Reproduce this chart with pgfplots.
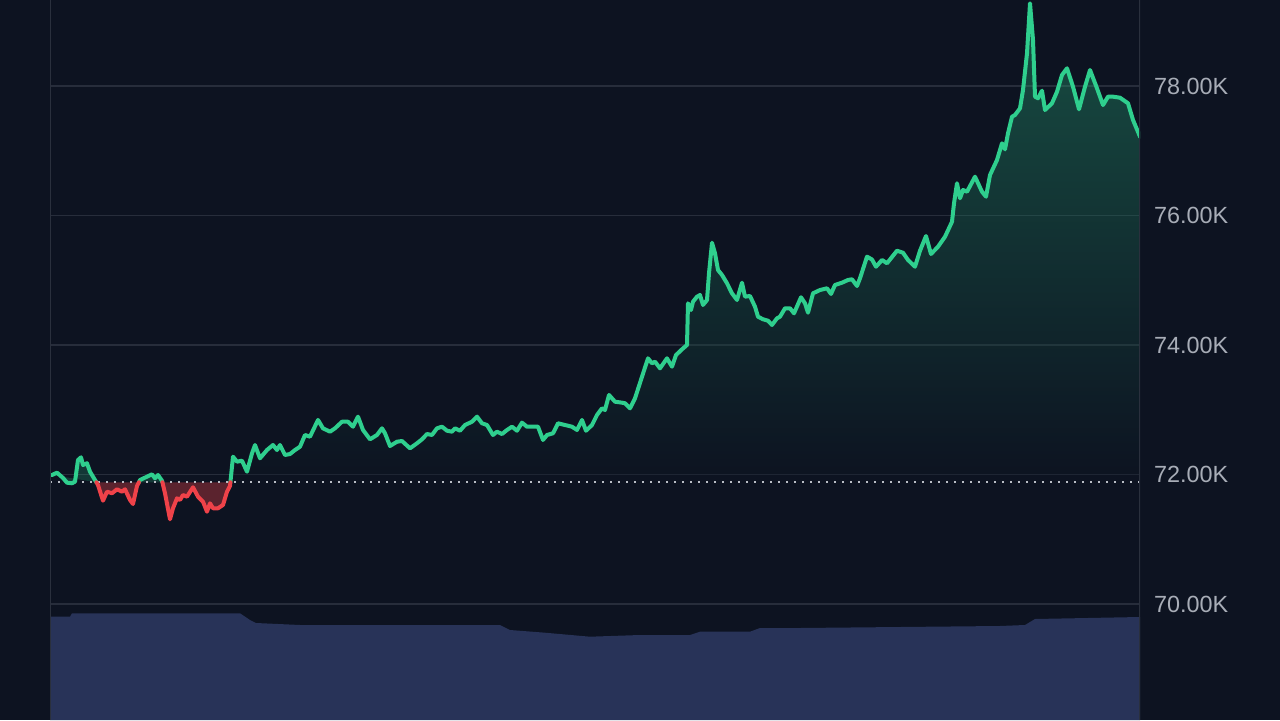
\documentclass[border=0pt]{standalone}
\usepackage{fontspec}
\setmainfont{Liberation Sans}
\usepackage{pgfplots}
\usepackage{pgfplotstable}
\pgfplotsset{compat=1.18}

\definecolor{bgcol}{HTML}{0D1321}
\definecolor{gridcol}{HTML}{272D3B}
\definecolor{bordercol}{HTML}{2A303D}
\definecolor{upcol}{HTML}{2FCF8E}
\definecolor{downcol}{HTML}{EF4249}
\definecolor{volcol}{HTML}{283358}
\definecolor{labelcol}{HTML}{A8ADB7}

% price line, split where it crosses the opening level (71.88K)
\pgfplotstableread{
x y
52 71.992
57 72.028
63 71.946
67 71.873
72 71.864
75 71.889
78 72.224
81 72.265
83 72.147
87 72.173
90 72.043
95 71.915
96.4 71.880
}\greenA
\pgfplotstableread{
x y
96.4 71.880
98 71.838
103 71.595
107 71.734
112 71.710
117 71.771
122 71.734
125 71.771
130 71.606
133 71.544
137 71.822
138.9 71.880
}\redA
\pgfplotstableread{
x y
138.9 71.880
140 71.915
147 71.966
152 72.003
155 71.941
158 71.992
162 71.904
162.4 71.880
}\greenB
\pgfplotstableread{
x y
162.4 71.880
165 71.710
170 71.308
173 71.478
177 71.632
180 71.606
183 71.683
187 71.657
193 71.802
198 71.657
203 71.580
207 71.425
210 71.555
213 71.478
218 71.478
223 71.529
227 71.734
230 71.822
230.4 71.880
}\redB
\pgfplotstableread{
x y
230.4 71.880
233 72.275
237 72.198
242 72.213
247 72.043
252 72.327
255 72.455
260 72.250
267 72.378
273 72.455
277 72.378
280 72.455
285 72.301
290 72.316
295 72.378
300 72.429
305 72.610
310 72.584
318 72.842
323 72.713
330 72.661
335 72.713
342 72.815
348 72.815
353 72.738
358 72.893
363 72.687
370 72.543
377 72.610
382 72.713
385 72.636
390 72.440
397 72.506
402 72.517
410 72.404
417 72.482
422 72.543
427 72.625
432 72.610
437 72.713
442 72.738
447 72.676
452 72.661
455 72.713
460 72.676
465 72.764
472 72.815
477 72.893
482 72.791
487 72.764
493 72.610
497 72.661
502 72.625
507 72.687
512 72.738
517 72.676
522 72.800
527 72.738
532 72.738
538 72.738
543 72.533
547 72.610
553 72.636
558 72.791
565 72.764
572 72.738
577 72.687
582 72.842
586 72.676
592 72.764
597 72.919
602 73.022
605 72.996
609 73.228
615 73.124
622 73.109
625 73.100
630 73.022
635 73.177
642 73.510
648 73.794
652 73.717
655 73.742
660 73.640
667 73.794
672 73.665
676 73.845
682 73.933
687 74.000
688 74.644
691 74.540
693 74.669
697 74.746
700 74.772
703 74.618
707 74.695
709 75.107
712 75.580
715 75.416
718 75.158
722 75.081
727 74.953
732 74.798
737 74.695
742 74.962
745 74.746
750 74.757
755 74.591
758 74.437
763 74.397
768 74.375
772 74.309
777 74.412
780 74.437
785 74.567
790 74.567
794 74.489
801 74.737
805 74.644
808 74.499
813 74.798
820 74.849
827 74.876
831 74.788
835 74.927
842 74.962
848 75.004
852 75.015
857 74.911
860 75.030
867 75.364
872 75.320
876 75.209
882 75.313
887 75.262
897 75.456
903 75.425
908 75.313
915 75.209
920 75.456
926 75.683
931 75.405
938 75.518
945 75.672
952 75.904
954 76.188
957 76.497
960 76.266
963 76.394
967 76.367
975 76.599
982 76.367
986 76.290
990 76.625
997 76.857
1002 77.115
1005 77.022
1008 77.269
1012 77.526
1015 77.552
1020 77.655
1023 77.938
1027 78.505
1030 79.277
1033 78.710
1035 77.835
1038 77.810
1042 77.927
1045 77.629
1052 77.733
1057 77.912
1062 78.170
1067 78.273
1073 77.989
1079 77.640
1085 77.989
1090 78.247
1097 77.964
1103 77.706
1108 77.835
1113 77.835
1120 77.819
1128 77.733
1133 77.475
1140 77.217
}\greenC
% volume (arbitrary units)
\pgfplotstableread{
x v
50 103.3
70 103.3
72 106.7
240 106.7
250 100
256 97
300 95
400 95
500 95
510 90
545 87.3
590 83.3
640 85
690 85
700 88.3
750 88.3
760 92
800 92
900 93
1000 94
1025 95
1035 101
1140 103
}\volume

\begin{document}
\begin{tikzpicture}
\fill[bgcol] (0,0) rectangle (640pt,360pt);

% volume panel
\begin{axis}[
    at={(25pt,0pt)}, anchor=south west,
    scale only axis, width=545pt, height=360pt,
    xmin=50, xmax=1140, ymin=0, ymax=720,
    hide axis,
]
\addplot[draw=none, fill=volcol, mark=none] table[x=x, y=v] {\volume} \closedcycle;
\end{axis}

% price panel
\begin{axis}[
    at={(25pt,0pt)}, anchor=south west,
    scale only axis, width=545pt, height=360pt,
    xmin=50, xmax=1140, ymin=68.208, ymax=79.328,
    axis line style={draw=none},
    xtick=\empty,
    ytick={70,72,74,76,78},
    yticklabels={70.00K,72.00K,74.00K,76.00K,78.00K},
    yticklabel pos=right,
    major tick length=0pt,
    ymajorgrids,
    grid style={gridcol, line width=0.75pt},
    yticklabel style={font=\fontsize{11.7}{13}\selectfont, text=labelcol, anchor=west, xshift=3.5pt},
    every axis plot/.append style={mark=none},
]
% filled areas
\addplot[draw=none, top color=upcol, bottom color=bgcol, fill opacity=0.32] table[x=x,y=y] {\greenC} -- (axis cs:1140,71.88) -- cycle;
\addplot[draw=none, fill=upcol, fill opacity=0.2] table[x=x,y=y] {\greenA} -- cycle;
\addplot[draw=none, fill=upcol, fill opacity=0.2] table[x=x,y=y] {\greenB} -- cycle;
\addplot[draw=none, fill=downcol, fill opacity=0.35] table[x=x,y=y] {\redA} -- cycle;
\addplot[draw=none, fill=downcol, fill opacity=0.35] table[x=x,y=y] {\redB} -- cycle;
% opening level
\addplot[color=labelcol!80!white, line width=1pt, dash pattern=on 1pt off 3pt] coordinates {(50,71.88) (1140,71.88)};
% price line
\addplot[upcol, line width=2pt, line join=round, line cap=round] table[x=x,y=y] {\greenA};
\addplot[upcol, line width=2pt, line join=round, line cap=round] table[x=x,y=y] {\greenB};
\addplot[upcol, line width=2pt, line join=round, line cap=round] table[x=x,y=y] {\greenC};
\addplot[downcol, line width=2pt, line join=round, line cap=round] table[x=x,y=y] {\redA};
\addplot[downcol, line width=2pt, line join=round, line cap=round] table[x=x,y=y] {\redB};
% side borders
\draw[bordercol, line width=0.75pt] (rel axis cs:0,0) -- (rel axis cs:0,1);
\draw[bordercol, line width=0.75pt] (rel axis cs:1,0) -- (rel axis cs:1,1);
\end{axis}
\end{tikzpicture}
\end{document}
